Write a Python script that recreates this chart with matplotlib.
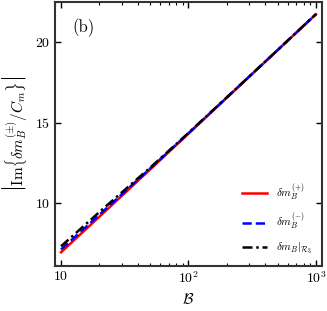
import matplotlib
matplotlib.use("Agg")
import matplotlib.pyplot as plt
from matplotlib.ticker import FixedLocator, FixedFormatter

plt.rcParams['font.family'] = ['cmr10', 'DejaVu Serif']
plt.rcParams['mathtext.fontset'] = 'cm'
plt.rcParams['axes.formatter.use_mathtext'] = True

B = [10, 20, 50, 100, 200, 500, 1000]
red_plus = [6.95, 9.16, 12.09, 14.31, 16.54, 19.49, 21.72]
blue_minus = [7.12, 9.28, 12.15, 14.34, 16.56, 19.50, 21.72]
black_r3 = [7.32, 9.45, 12.20, 14.36, 16.57, 19.50, 21.73]
xtick_vals = [10, 100, 1000]
xtick_labels = ['10', r'$10^2$', r'$10^3$']

fig = plt.figure(figsize=(3.27, 3.11), dpi=100)
ax = fig.add_axes([55/327, 1-266/311, (322-55)/327, (266-2)/311])

ax.plot(B, red_plus, color='red', lw=1.8, ls='-', label=r'$\delta m_B^{(+)}$')
ax.plot(B, blue_minus, color='blue', lw=1.8, ls='--', label=r'$\delta m_B^{(-)}$')
ax.plot(B, black_r3, color='black', lw=1.8, ls=(0, (4, 1.5, 1, 1.5)), label=r'$\left.\delta m_B\right|_{\mathcal{R}_3}$')

ax.set_xscale('log')
ax.set_xlim(8.97, 1115)
ax.set_ylim(6.1, 22.48)
ax.set_yticks([10, 15, 20])
ax.xaxis.set_major_locator(FixedLocator(xtick_vals))
ax.xaxis.set_major_formatter(FixedFormatter(xtick_labels))

ax.tick_params(which='both', direction='in', top=True, right=True, labelsize=10)
ax.tick_params(which='major', length=4, width=1)
ax.tick_params(which='minor', length=2, width=0.8)
for s in ax.spines.values():
    s.set_linewidth(1.5)
    s.set_color('#333333')

ax.set_xlabel(r'$\mathcal{B}$', fontsize=11)
ax.set_ylabel(r'$\left|\mathrm{Im}\left\{\delta m_B^{(\pm)}/C_m\right\}\right|$', fontsize=11)
ax.text(0.065, 0.94, '(b)', transform=ax.transAxes, fontsize=12, va='top')

leg = ax.legend(loc='lower right', frameon=False, fontsize=8, handlelength=2.2,
                labelspacing=0.75, borderaxespad=0.5)

fig.savefig('out.png', dpi=100)
